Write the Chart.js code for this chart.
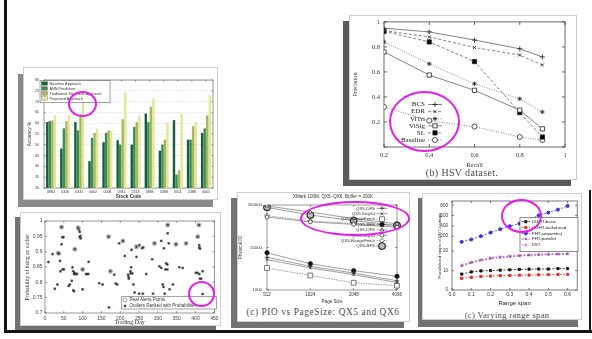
<!DOCTYPE html>
<html><head><meta charset="utf-8">
<script src="https://cdn.jsdelivr.net/npm/chart.js@4.4.1/dist/chart.umd.min.js"></script>
<style>
html,body{margin:0;padding:0;background:#fff;}
body{width:592px;height:339px;position:relative;overflow:hidden;font-family:"Liberation Sans",Arial,sans-serif;}
.blk{position:absolute;background:#151515;}
.shadow{position:absolute;background:#727272;}
.card{position:absolute;background:#fff;border:1px solid #cfcfcf;box-sizing:border-box;}
canvas{position:absolute;}
.cap{position:absolute;font-family:"Liberation Serif","DejaVu Serif",serif;color:#4a4a4a;white-space:nowrap;transform:translate(-50%,-50%);line-height:1;}
.ring{position:absolute;border:2.5px solid #e61ee6;border-radius:50%;box-sizing:border-box;}
</style>
</head>
<body>
<div class="blk" style="left:4px;top:0;width:3px;height:333px"></div>
<div class="blk" style="left:4px;top:330px;width:588px;height:3px"></div>
<div class="blk" style="left:589px;top:190px;width:2px;height:143px"></div>

<div class="shadow" style="left:18px;top:74px;width:195px;height:133px;background:#8a8a8a"></div>
<div class="card" style="left:23px;top:67px;width:195px;height:133px"></div>
<div class="shadow" style="left:15px;top:217px;width:201px;height:113px"></div>
<div class="card" style="left:20px;top:212px;width:201px;height:114px"></div>
<div class="shadow" style="left:343px;top:21px;width:228px;height:165px;background:#5a5a5a"></div>
<div class="card" style="left:349px;top:15px;width:228px;height:165px"></div>
<div class="shadow" style="left:231px;top:198px;width:173px;height:130px"></div>
<div class="card" style="left:237px;top:192px;width:173px;height:130px"></div>
<div class="shadow" style="left:418px;top:198px;width:160px;height:129px"></div>
<div class="card" style="left:422px;top:193px;width:160px;height:127px"></div>

<canvas id="cBar" width="195" height="133" style="left:23px;top:67px;width:195px;height:133px"></canvas>
<canvas id="cSc" width="201" height="114" style="left:20px;top:212px;width:201px;height:114px"></canvas>
<canvas id="cHsv" width="226" height="160" style="left:350px;top:14px;width:226px;height:160px"></canvas>
<canvas id="cPio" width="173" height="112" style="left:237px;top:192px;width:173px;height:112px"></canvas>
<canvas id="cRng" width="160" height="114" style="left:422px;top:193px;width:160px;height:114px"></canvas>

<div class="cap" style="left:462px;top:173px;font-size:10px;letter-spacing:0.35px">(b) HSV dataset.</div>
<div class="cap" style="left:323px;top:313px;font-size:9.3px;letter-spacing:0.6px">(c) PIO vs PageSize: QX5 and QX6</div>
<div class="cap" style="left:507px;top:315px;font-size:8.5px;letter-spacing:0.35px">(c) Varying range span</div>

<div class="ring" style="left:389px;top:91px;width:71px;height:61px"></div>
<div class="ring" style="left:68px;top:91px;width:29px;height:26px;border-width:2px"></div>
<div class="ring" style="left:188px;top:281px;width:27px;height:26px;border-width:2px"></div>
<div class="ring" style="left:300px;top:201px;width:110px;height:35px"></div>
<div class="ring" style="left:501px;top:199px;width:41px;height:34px"></div>

<script>
// ---------------- DATA ----------------
// (b) HSV dataset
const hsvRecall   = [0.2, 0.4, 0.6, 0.8, 0.9];
const hsvBCS      = [0.95, 0.92, 0.855, 0.785, 0.72];
const hsvEDR      = [0.93, 0.88, 0.795, 0.735, 0.655];
const hsvViTri    = [0.84, 0.665, 0.505, 0.385, 0.28];
const hsvViSig    = [0.76, 0.575, 0.453, 0.295, 0.145];
const hsvSL       = [0.925, 0.84, 0.683, 0.275, 0.08];
const hsvBaseline = [0.32, 0.21, 0.163, 0.08, 0.055];
const hsvLabels   = ["BCS", "EDR", "ViTri", "ViSig", "SL", "Baseline"];

// Bar chart: accuracy per stock code
const stockCodes   = ["0882","0316","0331","0002","0008","0941","2318","0883","0388","0011","2388","0005"];
const accBaseline  = [60.5, 48.3, 60.5, 42.4, 51.2, 52.1, 50.1, 64.5, 47.3, 61.4, 52.4, 55.5];
const accANN       = [61.0, 57.6, 56.7, 53.2, 55.5, 50.1, 58.3, 60.5, 50.1, 36.2, 52.4, 57.6];
const accTrad      = [61.3, 61.0, 64.0, 55.5, 56.6, 61.9, 60.5, 67.6, 52.4, 38.2, 58.6, 63.6];
const accProposed  = [63.7, 63.6, 70.6, 57.4, 56.6, 74.1, 63.7, 71.5, 60.5, 64.5, 60.5, 72.9];
const accTicks     = [30, 35, 40, 45, 50, 55, 60, 65, 70, 75, 80];

// Scatter: outlier probability vs trading day
const outDays  = [9,20,35,38,26,33,40,44,46,44,49,41,47,50,63,66,71,73,75,77,79,82,85,75,77,79,88,90,92,92,94,95,100,100,109,112,115,116,144,153,169,170,174,184,188,192,197,207,212,221,223,222,227,229,228,232,230,235,238,243,243,251,258,261,250,260,269,285,287,291,304,309,313,315,309,316,318,322,325,320,325,326,326,329,331,340,348,357,366,375,401,405,410,406,409,410,410,412,412,415,419,419];
const outProbs = [0.866,0.892,0.895,0.893,0.779,0.793,0.870,0.980,0.947,0.924,0.947,0.836,0.842,0.842,0.788,0.793,0.805,0.849,0.836,0.827,0.831,0.826,0.828,0.774,0.771,0.908,0.978,0.972,0.965,0.948,0.951,0.943,0.777,0.842,0.827,0.827,0.827,0.867,0.797,0.793,0.949,0.718,0.836,0.825,0.796,0.793,0.927,0.935,0.886,0.825,0.812,0.818,0.836,0.849,0.829,0.829,0.906,0.793,0.767,0.883,0.916,0.921,0.911,0.914,0.763,0.763,0.827,0.875,0.763,0.927,0.852,0.847,0.793,0.785,0.935,0.911,0.763,0.862,0.858,0.842,0.842,0.987,0.960,0.927,0.777,0.793,0.924,0.849,0.847,0.927,0.831,0.831,0.827,0.949,0.987,0.921,0.913,0.910,0.812,0.812,0.836,0.762];
const alertDays  = [35,44,79,88,100,169,174,207,243,291,326,348,375,406,409];
const alertProbs = [0.895,0.980,0.908,0.978,0.842,0.949,0.836,0.935,0.916,0.927,0.987,0.924,0.927,0.949,0.987];

// PIO vs page size
const pageSizes       = ["512", "1024", "2048", "4096"];
const qx5DFS          = [5900, 3600, 2500, 1650];
const qx5SegSJ        = [5200, 3300, 2300, 1500];
const qx5RangeFetch   = [3300, 2200, 1480, 1270];
const qx5BFS          = [7500, 4150, 2850, 2100];
const qx6DFS          = [95000, 68000, 48000, 36000];
const qx6SegSJ        = [52000, 40000, 35000, 30000];
const qx6RangeFetch   = [56000, 42000, 37000, 32000];
const qx6BFS          = [88000, 58000, 43000, 33000];
const pioTicks        = [1000, 10000, 100000];

// Varying range span
const rangeSpan      = [0.05,0.10,0.15,0.20,0.25,0.30,0.35,0.40,0.45,0.50,0.55,0.60];
const lightBasic     = [8.2, 9.3, 9.8, 10.0, 10.2, 10.4, 10.6, 10.7, 10.8, 10.8, 11.0, 11.0];
const lightLookahead = [6.0, 6.5, 7.0, 7.2, 7.4, 7.5, 7.6, 7.7, 7.8, 7.9, 8.0, 8.0];
const phtSequential  = [132, 160, 200, 271, 335, 394, 445, 510, 606, 658, 716, 787];
const phtParallel    = [12.3, 14.0, 15.2, 16.1, 16.7, 17.1, 17.5, 17.8, 18.0, 18.2, 18.3, 18.4];
const dstSteps       = [12.8, 14.5, 15.7, 16.6, 17.1, 17.6, 17.9, 18.3, 18.5, 18.6, 18.8, 18.8];
const rangeYTicks    = [0, 10, 20, 200, 400, 600, 800];
const rangeXTicks    = [0, 0.1, 0.2, 0.3, 0.4, 0.5, 0.6];

// ---------------- HELPERS ----------------
const F_SANS = '"Liberation Sans", Arial, sans-serif';
const F_SERIF = '"Liberation Serif", "DejaVu Serif", serif';
Chart.defaults.animation = false;
Chart.defaults.responsive = false;
Chart.defaults.maintainAspectRatio = false;
Chart.defaults.plugins.legend.display = false;
Chart.defaults.plugins.tooltip.enabled = false;
Chart.defaults.color = '#333';

function drawMark(ctx, style, r, x, y, bw) {
  if (Chart.helpers && Chart.helpers.drawPoint) {
    Chart.helpers.drawPoint(ctx, {pointStyle: style, radius: r, rotation: 0, borderWidth: bw}, x, y);
  } else {
    ctx.beginPath(); ctx.arc(x, y, r, 0, Math.PI * 2); ctx.fill(); ctx.stroke();
  }
}

const framePlugin = {
  id: 'frame',
  beforeDatasetsDraw(chart, args, o) {
    if (!o || !o.show) return;
    const {ctx, chartArea: a} = chart;
    ctx.save();
    ctx.strokeStyle = o.color || '#333';
    ctx.lineWidth = o.width || 0.8;
    ctx.strokeRect(a.left, a.top, a.right - a.left, a.bottom - a.top);
    const L = o.tickLen || 0;
    if (L > 0) {
      ctx.beginPath();
      const xs = chart.scales.x, ys = chart.scales.y;
      xs.ticks.forEach((t, i) => {
        const p = xs.getPixelForTick(i);
        ctx.moveTo(p, a.bottom); ctx.lineTo(p, a.bottom - L);
        ctx.moveTo(p, a.top); ctx.lineTo(p, a.top + L);
      });
      ys.ticks.forEach((t, i) => {
        const p = ys.getPixelForTick(i);
        ctx.moveTo(a.left, p); ctx.lineTo(a.left + L, p);
        ctx.moveTo(a.right, p); ctx.lineTo(a.right - L, p);
      });
      ctx.stroke();
    }
    ctx.restore();
  }
};

const topText = {
  id: 'topText',
  afterDraw(chart, args, o) {
    if (!o || !o.text) return;
    const {ctx, chartArea: a} = chart;
    ctx.save();
    ctx.font = o.font; ctx.fillStyle = o.color || '#333';
    ctx.textAlign = 'center'; ctx.textBaseline = 'middle';
    ctx.fillText(o.text, (a.left + a.right) / 2 + (o.dx || 0), o.y);
    ctx.restore();
  }
};

const boxLegend = {
  id: 'boxLegend',
  afterDraw(chart, args, o) {
    if (!o || !o.items) return;
    const ctx = chart.ctx;
    ctx.save();
    if (o.box) {
      ctx.fillStyle = '#fff';
      ctx.fillRect(o.box[0], o.box[1], o.box[2], o.box[3]);
      ctx.strokeStyle = o.boxColor || '#555';
      ctx.lineWidth = 0.6;
      ctx.strokeRect(o.box[0], o.box[1], o.box[2], o.box[3]);
    }
    o.items.forEach((di, k) => {
      const ds = chart.data.datasets[di];
      const y = o.y + k * o.rowH;
      let sx0, sx1, tx;
      ctx.font = o.font;
      ctx.textBaseline = 'middle';
      if (o.mode === 'right') { ctx.textAlign = 'right'; tx = o.x; sx0 = o.x + o.gap; sx1 = sx0 + o.sampleW; }
      else { ctx.textAlign = 'left'; sx0 = o.x; sx1 = o.x + o.sampleW; tx = sx1 + o.gap; }
      ctx.fillStyle = o.color || '#333';
      ctx.fillText(ds.label, tx, y);
      if (o.bars) {
        const h = o.barH || 3;
        ctx.fillStyle = ds.backgroundColor;
        ctx.fillRect(sx0, y - h / 2, sx1 - sx0, h);
        ctx.strokeStyle = '#444'; ctx.lineWidth = 0.3;
        ctx.strokeRect(sx0, y - h / 2, sx1 - sx0, h);
      } else {
        if (ds.showLine !== false && !o.noLine) {
          ctx.setLineDash(ds.borderDash || []);
          ctx.strokeStyle = ds.borderColor; ctx.lineWidth = ds.borderWidth || 1;
          ctx.beginPath(); ctx.moveTo(sx0, y); ctx.lineTo(sx1, y); ctx.stroke();
          ctx.setLineDash([]);
        }
        ctx.fillStyle = ds.pointBackgroundColor || ds.borderColor;
        ctx.strokeStyle = ds.pointBorderColor || ds.borderColor;
        ctx.lineWidth = ds.pointBorderWidth || 1;
        drawMark(ctx, ds.pointStyle, ds.pointRadius, (sx0 + sx1) / 2, y, ds.pointBorderWidth || 1);
      }
    });
    ctx.restore();
  }
};

function xy(xs, ys) { return xs.map((x, i) => ({x: x, y: ys[i]})); }

// ---------------- (b) HSV ----------------
function hsvDs(label, arr, style, dash, r, fill) {
  return {label: label, data: xy(hsvRecall, arr), showLine: true, fill: false,
    borderColor: '#666', borderWidth: 0.8, borderDash: dash,
    pointStyle: style, pointRadius: r, pointBorderColor: '#222', pointBackgroundColor: fill, pointBorderWidth: 0.8};
}
new Chart(document.getElementById('cHsv'), {
  type: 'scatter',
  data: {datasets: [
    hsvDs(hsvLabels[0], hsvBCS, 'cross', [], 2.6, '#222'),
    hsvDs(hsvLabels[1], hsvEDR, 'crossRot', [3, 2], 2.2, '#222'),
    hsvDs(hsvLabels[2], hsvViTri, 'star', [1, 1.5], 2.2, '#222'),
    hsvDs(hsvLabels[3], hsvViSig, 'rect', [], 3, '#fff'),
    hsvDs(hsvLabels[4], hsvSL, 'rect', [3, 2], 3, '#000'),
    hsvDs(hsvLabels[5], hsvBaseline, 'circle', [1, 1.5], 2.5, '#fff')
  ]},
  options: {
    layout: {padding: {top: 6, right: 11, left: 0, bottom: 0}},
    scales: {
      x: {type: 'linear', min: 0.2, max: 1, afterFit: s => { s.height = 27; },
        grid: {display: false, drawTicks: false}, border: {display: false},
        ticks: {stepSize: 0.2, padding: 4, maxRotation: 0, font: {family: F_SERIF, size: 6.5}, color: '#333',
          callback: v => (+v.toFixed(1)) + ''},
        title: {display: true, text: 'Recall', font: {family: F_SERIF, size: 6.5}, color: '#333', padding: {top: 0, bottom: 5}}},
      y: {type: 'linear', min: 0, max: 1, afterFit: s => { s.width = 34; },
        grid: {display: false, drawTicks: false}, border: {display: false},
        ticks: {stepSize: 0.2, padding: 4, font: {family: F_SERIF, size: 6.5}, color: '#333',
          callback: v => v < 0.01 ? '' : (+v.toFixed(1)) + ''},
        title: {display: true, text: 'Precision', font: {family: F_SERIF, size: 6.5}, color: '#333', padding: {top: 1, bottom: 0}}}
    },
    plugins: {
      frame: {show: true, color: '#444', width: 0.8, tickLen: 3},
      boxLegend: {items: [0, 1, 2, 3, 4, 5], mode: 'right', x: 75, y: 90.5, rowH: 7.1, gap: 3, sampleW: 14,
        font: '7px ' + F_SERIF, color: '#222'}
    }
  },
  plugins: [framePlugin, boxLegend]
});

// ---------------- Bar chart ----------------
const barColors = ['#15603b', '#3e8c52', '#a5b95c', '#e4e69a'];
new Chart(document.getElementById('cBar'), {
  type: 'bar',
  data: {labels: stockCodes, datasets: [
    {label: 'Baseline Approach', data: accBaseline, backgroundColor: barColors[0]},
    {label: 'ANN Prediction', data: accANN, backgroundColor: barColors[1]},
    {label: 'Traditional Statistical Approach', data: accTrad, backgroundColor: barColors[2]},
    {label: 'Proposed Approach', data: accProposed, backgroundColor: barColors[3]}
  ]},
  options: {
    datasets: {bar: {barPercentage: 0.95, categoryPercentage: 0.72, borderWidth: 0}},
    layout: {padding: {top: 13, right: 5, left: 0, bottom: 0}},
    scales: {
      x: {afterFit: s => { s.height = 12; }, grid: {display: false, drawTicks: false}, border: {display: false},
        ticks: {padding: 2, maxRotation: 0, autoSkip: false, font: {family: F_SANS, size: 3.6}, color: '#333'},
        title: {display: true, text: 'Stock Code', font: {family: F_SANS, size: 4.6, weight: 'bold'}, color: '#333', padding: {top: 0, bottom: 1}}},
      y: {min: 30, max: 80, afterFit: s => { s.width = 21; },
        afterBuildTicks: s => { s.ticks = accTicks.map(v => ({value: v})); },
        grid: {drawTicks: false, color: '#c4c4c4', lineWidth: 0.5}, border: {display: false, dash: [1.5, 1.5]},
        ticks: {padding: 5, font: {family: F_SANS, size: 3.6}, color: '#333'},
        title: {display: true, text: 'Accuracy %', font: {family: F_SANS, size: 4.6}, color: '#333', padding: {top: 4, bottom: 0}}}
    },
    plugins: {
      frame: {show: true, color: '#555', width: 0.6, tickLen: 1.5},
      boxLegend: {items: [0, 1, 2, 3], bars: true, barH: 3.5, mode: 'left', x: 18.5, y: 16.5, rowH: 5, gap: 2, sampleW: 6,
        box: [17, 13.7, 70, 22], boxColor: '#666', font: '3.8px ' + F_SANS, color: '#333'}
    }
  },
  plugins: [framePlugin, boxLegend]
});

// ---------------- Scatter ----------------
new Chart(document.getElementById('cSc'), {
  type: 'scatter',
  data: {datasets: [
    {label: 'Real Alerts Points', data: xy(alertDays, alertProbs), pointStyle: 'circle', pointRadius: 2,
      pointBorderColor: '#777', pointBackgroundColor: 'rgba(0,0,0,0)', pointBorderWidth: 0.7, showLine: false},
    {label: 'Outliers Ranked with Probabilities', data: xy(outDays, outProbs), pointStyle: 'star', pointRadius: 1.4,
      pointBorderColor: '#333', pointBackgroundColor: '#333', pointBorderWidth: 0.8, showLine: false}
  ]},
  options: {
    layout: {padding: {top: 9, right: 5, left: 0, bottom: 0}},
    scales: {
      x: {type: 'linear', min: 0, max: 450, afterFit: s => { s.height = 13; },
        grid: {display: false, drawTicks: false}, border: {display: false},
        ticks: {stepSize: 50, padding: 2.5, maxRotation: 0, font: {family: F_SANS, size: 5}, color: '#444'},
        title: {display: true, text: 'Trading Day', font: {family: F_SERIF, size: 6}, color: '#333', padding: {top: 0, bottom: 0}}},
      y: {type: 'linear', min: 0.7, max: 1, afterFit: s => { s.width = 25; },
        grid: {display: false, drawTicks: false}, border: {display: false},
        ticks: {stepSize: 0.05, padding: 2.5, font: {family: F_SANS, size: 5}, color: '#444',
          callback: v => (+v.toFixed(2)) + ''},
        title: {display: true, text: 'Probability of being an outlier', font: {family: F_SERIF, size: 5.5}, color: '#333', padding: {top: 4.5, bottom: 0}}}
    },
    plugins: {
      frame: {show: true, color: '#555', width: 0.6, tickLen: 2},
      boxLegend: {items: [0, 1], mode: 'left', noLine: true, x: 102, y: 88, rowH: 6, gap: 1.5, sampleW: 6,
        box: [101.5, 84.7, 95, 12.3], boxColor: '#666', font: '4.5px ' + F_SANS, color: '#333'}
    }
  },
  plugins: [framePlugin, boxLegend]
});

// ---------------- PIO vs PageSize ----------------
function pioDs(label, arr, style, r, fill, bw, dash) {
  return {label: label, data: arr, borderColor: '#777', borderWidth: 0.7, borderDash: dash || [],
    pointStyle: style, pointRadius: r, pointBorderColor: '#222', pointBackgroundColor: fill, pointBorderWidth: bw, fill: false, tension: 0};
}
new Chart(document.getElementById('cPio'), {
  type: 'line',
  data: {labels: pageSizes, datasets: [
    pioDs('QX5-DFS', qx5DFS, 'cross', 2.3, '#222', 0.7),
    pioDs('QX5-SegSJ', qx5SegSJ, 'crossRot', 2.1, '#222', 0.7),
    pioDs('QX5-RangeFetch', qx5RangeFetch, 'rect', 3.4, '#fff', 0.6, [1.5, 1]),
    pioDs('QX5-BFS', qx5BFS, 'circle', 2.2, '#111', 0.7),
    pioDs('QX6-DFS', qx6DFS, 'triangle', 2.1, '#fff', 0.7),
    pioDs('QX6-SegSJ', qx6SegSJ, 'circle', 1.9, '#fff', 0.7),
    pioDs('QX6-RangeFetch', qx6RangeFetch, 'rectRot', 2.3, '#fff', 0.6, [1.5, 1]),
    pioDs('QX6-BFS', qx6BFS, 'circle', 3.3, '#bbb', 1.1)
  ]},
  options: {
    layout: {padding: {top: 13, right: 13, left: 0, bottom: 0}},
    scales: {
      x: {afterFit: s => { s.height = 14; }, offset: false,
        grid: {display: false, drawTicks: false}, border: {display: false},
        ticks: {padding: 2, maxRotation: 0, font: {family: F_SANS, size: 4.5}, color: '#333'},
        title: {display: true, text: 'Page Size', font: {family: F_SANS, size: 4.6}, color: '#333', padding: {top: 0, bottom: 0}}},
      y: {type: 'logarithmic', min: 1000, max: 100000, afterFit: s => { s.width = 30; },
        afterBuildTicks: s => { s.ticks = pioTicks.map(v => ({value: v})); },
        grid: {display: false, drawTicks: false}, border: {display: false},
        ticks: {padding: 5, font: {family: F_SANS, size: 4.3}, color: '#333', callback: v => String(v)},
        title: {display: true, text: 'Physical IO', font: {family: F_SANS, size: 4.6}, color: '#333', padding: {top: 0.6, bottom: 0}}}
    },
    plugins: {
      frame: {show: true, color: '#555', width: 0.6, tickLen: 2},
      topText: {text: 'XMark 100M, QX5\u2013QX6, Buffer = 200K', y: 5, font: '4.6px ' + F_SANS, color: '#333', dx: 1},
      boxLegend: {items: [0, 1, 2, 3, 4, 5, 6, 7], mode: 'right', x: 138, y: 16.3, rowH: 5.4, gap: 1.5, sampleW: 11,
        font: '4.4px ' + F_SANS, color: '#333'}
    }
  },
  plugins: [framePlugin, topText, boxLegend]
});

// ---------------- Varying range span (broken y axis) ----------------
function brk(v) {
  if (v <= 20) return v;
  if (v <= 200) return 20 + (v - 20) / 180 * 7.69;
  return 27.69 + (v - 200) * 0.0265;
}
function rngDs(label, arr, color, style, fill) {
  return {label: label, data: rangeSpan.map((x, i) => ({x: x, y: brk(arr[i])})), showLine: true, fill: false,
    borderColor: color, borderWidth: 0.8, borderDash: [2, 1.5],
    pointStyle: style, pointRadius: 1.6, pointBorderColor: color, pointBackgroundColor: fill, pointBorderWidth: 0.8};
}
new Chart(document.getElementById('cRng'), {
  type: 'scatter',
  data: {datasets: [
    rngDs('LIGHT-basic', lightBasic, '#111', 'rect', '#111'),
    rngDs('LIGHT-lookahead', lightLookahead, '#e02a2a', 'rect', '#e02a2a'),
    rngDs('PHT-sequential', phtSequential, '#3535d8', 'circle', '#3535d8'),
    rngDs('PHT-parallel', phtParallel, '#7a3a9a', 'crossRot', '#7a3a9a'),
    rngDs('DST', dstSteps, '#e25ce2', 'cross', '#e25ce2')
  ]},
  options: {
    layout: {padding: {top: 8, right: 4, left: 0, bottom: 0}},
    scales: {
      x: {type: 'linear', min: 0, max: 0.65, afterFit: s => { s.height = 17; },
        afterBuildTicks: s => { s.ticks = rangeXTicks.map(v => ({value: v})); },
        grid: {display: false, drawTicks: false}, border: {display: false},
        ticks: {padding: 2, maxRotation: 0, font: {family: F_SANS, size: 5}, color: '#333', callback: v => v.toFixed(1)},
        title: {display: true, text: 'Range span', font: {family: F_SANS, size: 6}, color: '#222', padding: {top: 0, bottom: 0.5}}},
      y: {type: 'linear', min: 0, max: 45.8, afterFit: s => { s.width = 30; },
        afterBuildTicks: s => { s.ticks = rangeYTicks.map(v => ({value: brk(v)})); },
        grid: {display: false, drawTicks: false}, border: {display: false},
        ticks: {padding: 4, font: {family: F_SANS, size: 4.6}, color: '#333', callback: (v, i) => String(rangeYTicks[i])},
        title: {display: true, text: 'Parallelized steps of DHT-lookups', font: {family: F_SANS, size: 4.4}, color: '#333', padding: {top: 15.5, bottom: 0}}}
    },
    plugins: {
      frame: {show: true, color: '#444', width: 0.7, tickLen: 2},
      boxLegend: {items: [0, 1, 2, 3, 4], mode: 'left', x: 99.7, y: 28.7, rowH: 5.8, gap: 1.7, sampleW: 8.3,
        box: [98, 24.7, 58, 34], boxColor: '#444', font: '4.4px ' + F_SANS, color: '#222'}
    }
  },
  plugins: [framePlugin, boxLegend]
});
</script>
</body></html>
